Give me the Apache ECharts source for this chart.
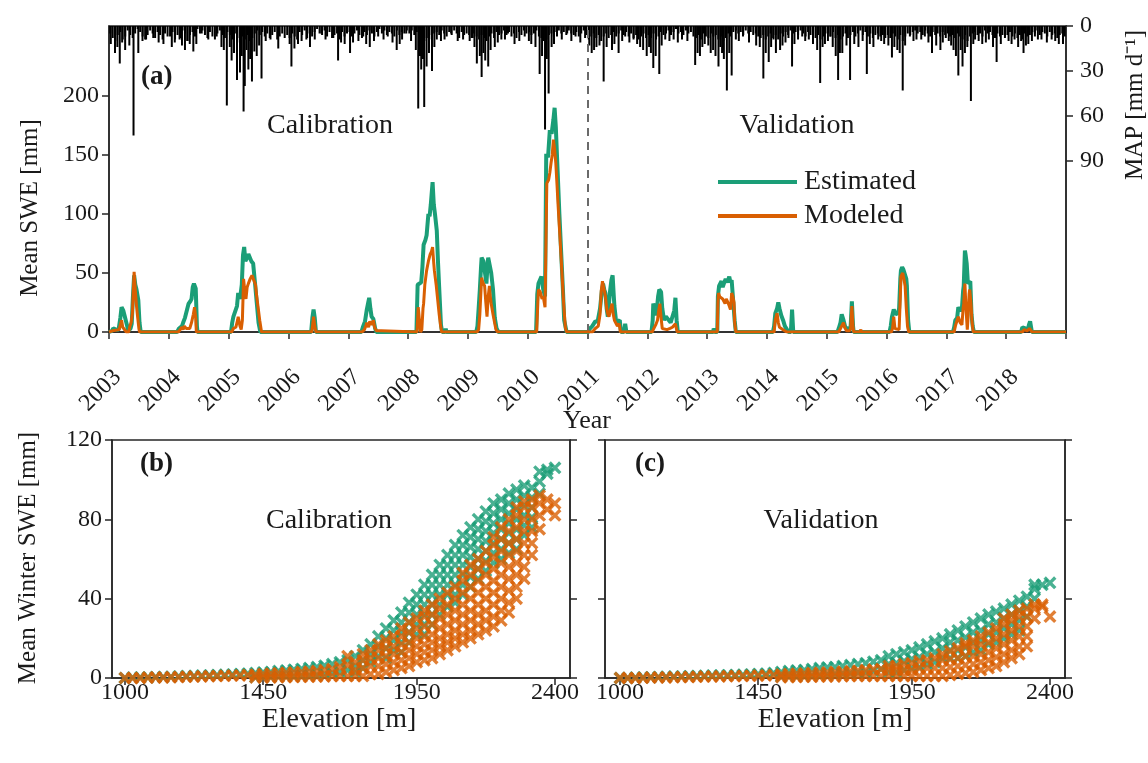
<!DOCTYPE html>
<html><head><meta charset="utf-8">
<script src="https://cdn.jsdelivr.net/npm/echarts@6/dist/echarts.min.js"></script>
<style>html,body{margin:0;padding:0;background:#fff}#c{width:1148px;height:763px}</style>
</head><body><div id="c"></div>
<script>
// ---------- Panel (a): mean SWE time series (decimal year, mm) ----------
const estimatedSWE = [
[2003.00,0],[2003.05,1],[2003.07,3],[2003.12,2],[2003.16,2],[2003.19,12],[2003.21,21],[2003.24,18],[2003.27,19],[2003.30,6],[2003.32,1],[2003.36,3],[2003.38,7],[2003.40,30],[2003.42,48],[2003.44,40],[2003.46,36],[2003.49,27],[2003.51,8],[2003.53,0],
[2004.14,0],[2004.17,3],[2004.22,5],[2004.24,8],[2004.27,12],[2004.30,18],[2004.33,24],[2004.36,26],[2004.38,28],[2004.40,38],[2004.42,41],[2004.45,37],[2004.47,5],[2004.48,0],
[2005.04,0],[2005.06,8],[2005.08,13],[2005.11,12],[2005.14,22],[2005.16,33],[2005.19,28],[2005.22,40],[2005.24,65],[2005.26,72],[2005.28,60],[2005.30,62],[2005.33,66],[2005.36,67],[2005.38,60],[2005.41,58],[2005.44,42],[2005.47,25],[2005.50,8],[2005.53,0],
[2006.38,0],[2006.40,12],[2006.42,19],[2006.44,12],[2006.46,0],
[2007.22,0],[2007.25,5],[2007.28,9],[2007.31,19],[2007.33,24],[2007.35,29],[2007.37,20],[2007.39,13],[2007.42,11],[2007.45,3],[2007.47,0],
[2008.14,0],[2008.16,40],[2008.19,41],[2008.22,42],[2008.24,55],[2008.26,74],[2008.29,78],[2008.31,82],[2008.34,100],[2008.36,98],[2008.38,108],[2008.41,127],[2008.43,108],[2008.45,100],[2008.48,86],[2008.50,60],[2008.52,38],[2008.55,6],[2008.57,0],[2008.62,0],[2008.63,3],[2008.64,0],
[2009.14,0],[2009.16,5],[2009.18,20],[2009.20,36],[2009.22,55],[2009.23,63],[2009.26,60],[2009.28,61],[2009.30,45],[2009.31,41],[2009.33,58],[2009.34,63],[2009.37,62],[2009.39,50],[2009.42,36],[2009.45,12],[2009.48,3],[2009.51,0],
[2010.14,0],[2010.16,32],[2010.18,41],[2010.21,40],[2010.23,47],[2010.26,36],[2010.29,30],[2010.31,151],[2010.34,148],[2010.37,171],[2010.40,168],[2010.43,180],[2010.45,190],[2010.47,174],[2010.50,137],[2010.53,100],[2010.56,67],[2010.59,35],[2010.61,10],[2010.65,0],
[2011.02,0],[2011.04,3],[2011.08,5],[2011.13,9],[2011.17,9],[2011.21,20],[2011.24,35],[2011.26,41],[2011.28,36],[2011.30,33],[2011.32,20],[2011.34,13],[2011.36,25],[2011.38,36],[2011.40,44],[2011.42,48],[2011.44,30],[2011.45,22],[2011.48,8],[2011.51,9],[2011.54,10],[2011.56,0],[2011.61,0],[2011.63,7],[2011.65,0],
[2012.07,0],[2012.09,10],[2012.10,24],[2012.13,20],[2012.15,14],[2012.18,30],[2012.20,36],[2012.23,34],[2012.25,20],[2012.28,10],[2012.31,13],[2012.33,14],[2012.36,10],[2012.39,8],[2012.42,7],[2012.45,18],[2012.47,29],[2012.49,10],[2012.51,0],
[2013.10,0],[2013.11,3],[2013.13,0],[2013.17,0],[2013.18,30],[2013.20,39],[2013.22,40],[2013.24,43],[2013.26,38],[2013.28,41],[2013.30,40],[2013.31,45],[2013.34,42],[2013.37,47],[2013.39,42],[2013.41,44],[2013.44,43],[2013.46,10],[2013.48,0],
[2014.10,0],[2014.12,5],[2014.14,16],[2014.17,20],[2014.19,25],[2014.21,20],[2014.24,14],[2014.27,10],[2014.30,5],[2014.32,4],[2014.36,0],[2014.40,0],[2014.42,19],[2014.44,0],
[2015.18,0],[2015.20,3],[2015.23,8],[2015.25,15],[2015.28,10],[2015.31,4],[2015.33,4],[2015.37,2],[2015.40,5],[2015.42,26],[2015.44,5],[2015.45,0],
[2016.05,0],[2016.07,5],[2016.09,13],[2016.12,19],[2016.15,15],[2016.19,16],[2016.21,20],[2016.23,45],[2016.24,52],[2016.26,55],[2016.28,53],[2016.31,52],[2016.33,45],[2016.34,39],[2016.36,10],[2016.38,0],
[2017.11,0],[2017.13,4],[2017.15,10],[2017.18,12],[2017.20,21],[2017.23,18],[2017.26,20],[2017.28,35],[2017.29,39],[2017.31,69],[2017.32,66],[2017.34,58],[2017.36,41],[2017.38,40],[2017.40,43],[2017.42,15],[2017.44,5],[2017.46,0],
[2018.25,0],[2018.27,4],[2018.29,5],[2018.32,3],[2018.36,2],[2018.38,6],[2018.40,9],[2018.42,3],[2018.43,0],[2019.00,0]
];
const modeledSWE = [
[2003.00,0],[2003.06,1],[2003.17,2],[2003.19,6],[2003.21,10],[2003.23,4],[2003.26,3],[2003.29,0],[2003.33,0],[2003.35,5],[2003.37,8],[2003.39,15],[2003.42,51],[2003.44,35],[2003.46,22],[2003.48,12],[2003.50,3],[2003.51,0],
[2004.16,0],[2004.19,2],[2004.22,4],[2004.24,2],[2004.26,5],[2004.29,3],[2004.32,2],[2004.35,3],[2004.38,8],[2004.41,15],[2004.43,21],[2004.45,12],[2004.46,0],
[2005.05,0],[2005.08,3],[2005.12,4],[2005.15,10],[2005.16,13],[2005.19,5],[2005.21,2],[2005.23,10],[2005.25,45],[2005.27,35],[2005.29,28],[2005.31,38],[2005.33,41],[2005.36,45],[2005.39,48],[2005.42,47],[2005.45,40],[2005.47,30],[2005.50,18],[2005.52,10],[2005.55,0],
[2006.39,0],[2006.41,8],[2006.42,13],[2006.44,5],[2006.46,0],
[2007.23,0],[2007.27,2],[2007.30,6],[2007.31,8],[2007.34,4],[2007.36,9],[2007.39,6],[2007.42,10],[2007.44,4],[2007.47,1],[2007.55,1],[2007.57,0],
[2008.15,0],[2008.17,21],[2008.19,10],[2008.21,0],[2008.23,2],[2008.25,20],[2008.26,24],[2008.28,40],[2008.31,52],[2008.34,60],[2008.37,66],[2008.39,68],[2008.41,72],[2008.43,58],[2008.44,52],[2008.47,40],[2008.49,30],[2008.52,15],[2008.54,7],[2008.56,0],
[2009.15,0],[2009.18,2],[2009.20,15],[2009.23,46],[2009.25,42],[2009.28,39],[2009.30,25],[2009.32,13],[2009.34,30],[2009.36,39],[2009.37,32],[2009.39,24],[2009.42,15],[2009.45,7],[2009.47,2],[2009.50,0],
[2010.15,0],[2010.17,25],[2010.18,36],[2010.21,34],[2010.24,28],[2010.26,30],[2010.29,21],[2010.32,126],[2010.35,129],[2010.37,135],[2010.39,143],[2010.41,150],[2010.43,163],[2010.45,155],[2010.47,143],[2010.49,125],[2010.51,106],[2010.54,80],[2010.57,53],[2010.60,25],[2010.63,4],[2010.65,0],
[2011.08,0],[2011.13,3],[2011.18,5],[2011.21,15],[2011.23,35],[2011.25,43],[2011.27,38],[2011.30,30],[2011.32,20],[2011.34,15],[2011.36,13],[2011.38,18],[2011.41,24],[2011.43,15],[2011.45,10],[2011.47,10],[2011.50,5],[2011.53,7],[2011.55,0],
[2012.08,0],[2012.10,2],[2012.14,6],[2012.17,10],[2012.19,18],[2012.21,24],[2012.23,12],[2012.25,3],[2012.28,4],[2012.33,2],[2012.38,3],[2012.42,4],[2012.45,5],[2012.47,7],[2012.49,2],[2012.50,0],
[2013.17,0],[2013.18,25],[2013.19,33],[2013.21,30],[2013.24,31],[2013.26,28],[2013.28,26],[2013.30,24],[2013.32,28],[2013.34,26],[2013.37,22],[2013.39,19],[2013.41,33],[2013.43,30],[2013.45,25],[2013.46,8],[2013.48,0],
[2014.12,0],[2014.14,10],[2014.16,14],[2014.17,16],[2014.19,8],[2014.21,4],[2014.24,3],[2014.27,2],[2014.30,1],[2014.33,0],
[2015.20,0],[2015.23,3],[2015.26,6],[2015.28,8],[2015.30,4],[2015.33,1],[2015.38,1],[2015.40,3],[2015.42,22],[2015.44,4],[2015.45,0],[2015.55,0],[2015.57,2],[2015.58,0],
[2016.08,0],[2016.10,3],[2016.12,13],[2016.14,3],[2016.17,2],[2016.21,2],[2016.23,30],[2016.24,47],[2016.26,48],[2016.27,50],[2016.29,45],[2016.31,39],[2016.33,20],[2016.35,5],[2016.37,0],
[2017.13,0],[2017.15,5],[2017.18,10],[2017.20,13],[2017.23,8],[2017.26,6],[2017.28,20],[2017.29,24],[2017.31,41],[2017.33,18],[2017.35,2],[2017.36,10],[2017.38,32],[2017.39,36],[2017.41,25],[2017.43,8],[2017.45,0],
[2018.27,0],[2018.30,2],[2018.35,1],[2018.39,3],[2018.41,2],[2018.43,0],[2019.00,0]
];
// Precipitation (MAP, mm/d): larger events
const precipEvents = [
[2003.10,18],[2003.18,25],[2003.27,16],[2003.41,73],[2003.49,18],[2003.62,9],[2003.74,8],[2003.91,12],
[2004.05,14],[2004.18,9],[2004.27,16],[2004.35,12],[2004.41,17],[2004.55,5],[2004.80,7],[2004.88,14],[2004.97,53],
[2005.05,23],[2005.14,36],[2005.19,31],[2005.25,57],[2005.27,40],[2005.33,29],[2005.39,37],[2005.47,20],[2005.55,35],[2005.70,9],[2005.83,15],
[2006.05,27],[2006.16,12],[2006.30,9],[2006.44,9],[2006.55,5],[2006.75,8],[2006.83,23],[2006.94,12],
[2007.03,18],[2007.25,7],[2007.36,14],[2007.50,7],[2007.66,7],[2007.81,16],[2007.90,9],[2007.97,5],
[2008.17,55],[2008.22,29],[2008.27,54],[2008.31,27],[2008.40,30],[2008.48,9],[2008.61,9],[2008.72,5],[2008.92,9],
[2009.08,8],[2009.15,25],[2009.20,20],[2009.23,34],[2009.29,23],[2009.34,27],[2009.45,14],[2009.56,9],[2009.67,5],[2009.78,12],[2009.95,7],
[2010.06,12],[2010.20,32],[2010.29,69],[2010.35,45],[2010.40,14],[2010.49,7],[2010.66,5],[2010.80,7],[2010.96,8],
[2011.07,18],[2011.15,14],[2011.27,37],[2011.41,16],[2011.52,18],[2011.63,7],[2011.77,9],[2011.88,14],[2011.99,20],
[2012.10,28],[2012.20,32],[2012.30,9],[2012.44,9],[2012.58,9],[2012.80,26],[2012.88,20],[2012.96,12],
[2013.06,18],[2013.19,27],[2013.25,18],[2013.33,43],[2013.41,33],[2013.48,9],[2013.60,7],[2013.82,13],[2013.94,35],
[2014.03,24],[2014.11,9],[2014.22,16],[2014.36,8],[2014.42,27],[2014.59,7],[2014.70,9],[2014.89,38],[2014.97,12],
[2015.06,7],[2015.19,36],[2015.26,18],[2015.39,36],[2015.53,14],[2015.67,32],[2015.78,14],[2015.86,9],[2015.96,12],
[2016.09,21],[2016.18,16],[2016.27,43],[2016.39,7],[2016.50,9],[2016.64,7],[2016.76,18],[2016.90,16],[2016.99,8],
[2017.12,16],[2017.20,33],[2017.27,27],[2017.31,18],[2017.41,50],[2017.48,9],[2017.60,12],[2017.71,9],[2017.84,24],[2017.98,7],
[2018.14,9],[2018.29,18],[2018.37,12],[2018.48,7],[2018.59,9],[2018.76,9],[2018.88,12]
];
// Precipitation (MAP, mm/d): moderate events
const precipModerate = [
[2003.03,12],[2003.14,14],[2003.22,11],[2003.34,13],[2003.56,10],[2003.83,11],
[2004.10,11],[2004.22,13],[2004.31,10],[2004.46,12],[2004.66,9],[2004.92,16],
[2005.02,14],[2005.09,18],[2005.22,20],[2005.30,16],[2005.36,22],[2005.43,17],[2005.51,13],[2005.62,10],
[2006.02,12],[2006.10,15],[2006.22,10],[2006.36,14],[2006.62,9],[2006.88,11],
[2007.08,11],[2007.17,10],[2007.30,12],[2007.43,10],[2007.59,9],[2007.74,11],[2007.86,12],
[2008.05,10],[2008.13,16],[2008.20,20],[2008.25,22],[2008.35,18],[2008.44,14],[2008.55,10],[2008.83,10],
[2009.03,10],[2009.11,14],[2009.26,18],[2009.38,16],[2009.50,11],[2009.62,9],[2009.86,10],
[2010.02,10],[2010.13,14],[2010.24,20],[2010.32,22],[2010.44,12],[2010.57,9],[2010.73,10],[2010.88,11],
[2011.03,13],[2011.11,16],[2011.20,13],[2011.32,14],[2011.45,12],[2011.58,10],[2011.70,11],[2011.83,12],[2011.93,16],
[2012.03,14],[2012.06,18],[2012.14,20],[2012.24,13],[2012.37,10],[2012.51,11],[2012.67,10],[2012.84,18],[2012.92,14],
[2013.02,13],[2013.10,16],[2013.14,20],[2013.22,14],[2013.28,22],[2013.37,18],[2013.53,10],[2013.70,11],[2013.88,14],[2013.98,18],
[2014.07,14],[2014.15,18],[2014.26,13],[2014.31,11],[2014.46,12],[2014.52,9],[2014.64,10],[2014.77,12],[2014.84,16],[2014.93,14],
[2015.02,10],[2015.10,14],[2015.15,20],[2015.22,18],[2015.33,13],[2015.46,12],[2015.60,10],[2015.72,12],[2015.91,10],
[2016.03,13],[2016.13,14],[2016.22,18],[2016.31,13],[2016.45,10],[2016.58,9],[2016.70,11],[2016.83,13],[2016.94,11],
[2017.04,10],[2017.08,13],[2017.16,20],[2017.24,16],[2017.35,14],[2017.45,12],[2017.54,10],[2017.66,11],[2017.78,14],[2017.91,12],
[2018.04,10],[2018.09,12],[2018.20,14],[2018.25,10],[2018.33,13],[2018.43,10],[2018.53,9],[2018.68,11],[2018.82,10],[2018.95,12]
];
// Precipitation: small background events, 24 half-month slots per year
const precipYears = [2003,2004,2005,2006,2007,2008,2009,2010,2011,2012,2013,2014,2015,2016,2017,2018];
const precipSmall = [
[5,8,10,6,4,9,7,3,6,8,5,2,4,7,9,6,3,5,8,4,6,9,5,7],
[7,4,9,6,8,3,5,10,6,4,7,2,5,3,6,8,4,7,9,5,3,6,8,4],
[6,9,5,8,11,7,9,6,10,8,5,3,6,4,7,5,8,6,4,9,7,5,8,6],
[8,5,7,9,4,6,3,8,5,7,4,2,5,6,3,7,4,8,6,5,9,4,7,5],
[4,7,5,3,6,8,4,6,3,5,7,4,2,5,3,6,4,5,7,3,6,4,5,3],
[5,3,6,4,9,7,10,8,6,9,5,4,6,3,5,7,4,6,3,5,8,4,6,5],
[6,8,5,7,9,6,8,10,7,5,8,4,6,5,3,6,4,7,5,8,4,6,3,5],
[4,6,5,3,7,8,10,9,6,5,7,4,3,5,4,6,3,5,6,4,7,5,3,6],
[9,7,5,8,6,10,7,5,8,6,4,7,5,3,6,4,7,5,8,6,9,7,5,8],
[6,8,5,9,7,4,6,5,3,6,4,2,5,4,6,3,5,4,7,8,6,9,5,7],
[8,5,7,6,9,7,10,8,5,7,4,3,5,4,6,3,5,4,6,5,7,8,6,9],
[7,5,8,6,9,5,7,4,6,3,5,4,6,3,5,7,4,6,5,8,6,9,7,5],
[5,7,4,8,6,9,7,5,8,6,4,7,5,3,6,4,7,5,8,6,5,7,6,8],
[6,8,5,7,9,6,10,7,5,6,4,3,5,4,6,3,5,7,4,6,5,7,4,6],
[5,7,6,8,5,7,9,6,10,7,5,4,6,5,7,3,5,4,6,8,5,7,6,8],
[6,4,7,5,8,6,9,5,7,6,4,5,3,6,4,5,7,4,6,5,8,6,5,7]
];
// ---------- Panels (b),(c): mean winter SWE vs elevation ----------
const elevCols = [1000,1025,1050,1075,1100,1125,1150,1175,1200,1225,1250,1275,1300,1325,1350,1375,1400,1425,1450,1475,1500,1525,1550,1575,1600,1625,1650,1675,1700,1725,1750,1775,1800,1825,1850,1875,1900,1925,1950,1975,2000,2025,2050,2075,2100,2125,2150,2175,2200,2225,2250,2275,2300,2325,2350,2375,2400];
const calEst = [[0],[0.2],[0.3],[0.3],[0.5],[0.5],[0.6],[0.8],[1],[1],[1.2],[1.3],[1.5],[1.6],[1.8],[2],[2.2],[0.5,2.5],[0.5,2.8],[0.6,3],[0.8,3.5],[1,3.8],[1,4.2],[1.2,4.6],[1.3,5],[1.5,5.5],[2,6.2],[2.5,7],[3,8],[4,9],[3,6,11],[5,9,14],[8,12,17],[11,16,21],[10,15,20,25],[14,19,24,29],[13,18,23,28,33],[18,23,28,33,38],[22,27,32,37,42],[22,27,32,37,42,47],[27,32,37,42,47,52],[32,37,42,47,52,57],[36,42,47,52,57,62],[38,42,47,52,57,62,67],[42,47,52,57,62,67,72],[46,51,56,61,66,71,76],[50,55,60,65,70,75,80],[54,59,64,69,74,79,84],[58,63,68,73,78,83,88],[60,65,70,75,80,85,90],[63,68,73,78,83,88,93],[65,70,75,80,85,90,95],[72,77,82,87,92,97],[76,81,86,91,96],[93,99,104],[103,105],[106]];
const calMod = [[0],[0],[0],[0.2],[0.3],[0.3],[0.4],[0.5],[0.6],[0.7],[0.8],[0.9],[1],[1.1],[1.2],[1.3],[1.5],[0.3,1.7],[0.3,2],[0.3,2.2],[0.4,2.4],[0.5,2.6],[0.5,2.8],[0.6,3],[0.6,3.2],[0.7,3.5],[0.8,4],[1,4.5],[1,5.5],[1,6.5,11],[1,4,8],[1,5,9,12],[2,6,10,14],[2,6,10,14,17],[3,7,11,15,19],[4,8,12,16,21],[5,9,13,17,21,25],[6,10,14,18,23,28],[8,12,16,20,25,30],[9,13,17,21,26,31,34],[10,14,18,22,27,32,37],[12,16,20,25,30,35,40],[14,18,22,27,32,37,43],[16,20,24,29,34,40,46],[18,22,27,32,37,43,49,53],[20,24,29,34,40,46,52,57],[22,27,32,37,43,49,55,60],[24,29,34,40,46,52,58,64],[26,31,37,43,49,55,61,67,71],[29,34,40,46,52,58,64,70,76],[33,38,44,50,56,62,68,74,80],[40,46,52,58,64,70,76,82,86],[50,56,62,68,74,80,86,89],[62,68,74,80,86,90],[75,82,88,92],[85,90],[82,88]];
const valEst = [[0],[0],[0.2],[0.3],[0.4],[0.5],[0.6],[0.7],[0.8],[0.9],[1],[1.1],[1.2],[1.3],[1.4],[1.5],[1.6],[1.8],[2],[2.2],[2.5],[0.8,3],[1,3.5],[1,3.8],[1.2,4],[1.3,4.5],[1.5,5],[1.8,5.3],[2,5.5],[2.2,6],[2.5,6.5],[2.8,7],[3,7.5],[3.5,8.2],[4.5,9],[3,7,11],[3,7.5,12],[4,8.5,13],[5,9.5,14],[5.5,10.5,15.5],[7,12,17],[8,13,18.5],[10,15,20],[10,14,18,22],[10,14,19,24],[11,15.5,20.5,26],[13,18,23,28],[14,19,24,30],[17,22,27,32],[18,23,28,33.5],[20,25,30,35],[22,27,32,37],[24,29,34,39],[31,36,41],[40,45,47],[47],[48]];
const valMod = [[0],[0],[0],[0.1],[0.2],[0.3],[0.3],[0.4],[0.5],[0.5],[0.6],[0.7],[0.8],[0.8],[0.9],[1],[1],[1.1],[1.2],[1.3],[1.5],[0.4,1.8],[0.5,2],[0.5,2.2],[0.6,2.3],[0.6,2.5],[0.7,2.6],[0.7,2.8],[0.8,3],[0.9,3.2],[1,3.4],[1,3.7],[1,4],[1,4.3],[1,4.5],[1,4,6],[1,4,6],[1,4,7],[1,4,7.5],[1,5,8.5],[1,5,9],[1,5,10],[1,5,9,12],[1.5,5.5,9.5,13.5],[2,6,10,15],[2.5,6.5,11,16,17.5],[3,7,11,16,19],[4,8,12,17,21],[5,9,13,18,23],[6,10.5,15,20,25],[8,12,17,22,27,30],[10,14,19,24,29,32],[12,16,21,26,31,34],[16,21,26,31,35],[30,35,37],[36,37],[31]];

const sweTicks = [0,50,100,150,200];
const mapTicks = [0,30,60,90];
const elevTicks = [1000,1450,1950,2400];

// ---------- build ----------
const FF = '"Liberation Serif","Times New Roman",serif';
const AX = '#262626', TXT = '#1a1a1a';
const GREEN = '#1b9e77', ORANGE = '#d95f02';
const precipData = [];
precipYears.forEach((y, i) => precipSmall[i].forEach((v, k) => precipData.push([y + (k + 0.5) / 24, v])));
precipModerate.forEach(p => precipData.push(p));
precipEvents.forEach(p => precipData.push(p));
function flatten(cols) { const out = []; elevCols.forEach((e, i) => cols[i].forEach(v => out.push([e, v]))); return out; }
const XSYM = 'path://M0,2.2L2.2,0L6,3.8L9.8,0L12,2.2L8.2,6L12,9.8L9.8,12L6,8.2L2.2,12L0,9.8L3.8,6Z';

const line = { show: true, lineStyle: { color: AX, width: 1.5 } };
const tick = (extra) => Object.assign({ show: true, inside: false, length: 7, lineStyle: { color: AX, width: 1.5 } }, extra || {});
const lab = (extra) => Object.assign({ color: TXT, fontFamily: FF, fontSize: 24 }, extra || {});
const plain = v => String(v);
const ctr = { textAlign: 'center', align: 'center', textVerticalAlign: 'middle', verticalAlign: 'middle' };
const txt = (x, y, text, font, extra) => ({ type: 'text', x: x, y: y, rotation: (extra && extra.rot) || 0,
  style: Object.assign({ text: text, font: font, fill: TXT }, (extra && extra.left) ? { textVerticalAlign: 'middle', verticalAlign: 'middle' } : ctr) });
const scat = (name, xi, yi, data, color) => ({ name: name, type: 'scatter', xAxisIndex: xi, yAxisIndex: yi, data: flatten(data),
  symbol: XSYM, symbolSize: 13, symbolKeepAspect: true, itemStyle: { color: color } });

const chart = echarts.init(document.getElementById('c'), null, { renderer: 'canvas' });
chart.setOption({
  animation: false,
  backgroundColor: '#fff',
  grid: [
    { left: 109, top: 26, width: 957, height: 306, show: true, borderColor: AX, borderWidth: 1.5 },
    { left: 112, top: 440, width: 458, height: 238, show: true, borderColor: AX, borderWidth: 1.5 },
    { left: 605, top: 440, width: 460, height: 238, show: true, borderColor: AX, borderWidth: 1.5 }
  ],
  xAxis: [
    { gridIndex: 0, type: 'value', min: 2003, max: 2019, interval: 1, axisLine: line, axisTick: tick(), splitLine: { show: false },
      axisLabel: lab({ rotate: 45, margin: 33, verticalAlign: 'top', formatter: v => (v >= 2019 ? '' : String(v)) }) },
    { gridIndex: 1, type: 'value', min: 958, max: 2449, axisLine: line, splitLine: { show: false },
      axisTick: tick({ customValues: elevTicks }), axisLabel: lab({ customValues: elevTicks, margin: 3, formatter: plain }) },
    { gridIndex: 2, type: 'value', min: 951, max: 2449, axisLine: line, splitLine: { show: false },
      axisTick: tick({ customValues: elevTicks }), axisLabel: lab({ customValues: elevTicks, margin: 3, formatter: plain }) }
  ],
  yAxis: [
    { gridIndex: 0, type: 'value', position: 'left', min: 0, max: 259.3, axisLine: line, splitLine: { show: false },
      axisTick: tick({ customValues: sweTicks }), axisLabel: lab({ customValues: sweTicks, margin: 10 }) },
    { gridIndex: 0, type: 'value', position: 'right', inverse: true, min: 0, max: 204, axisLine: line, splitLine: { show: false },
      axisTick: tick({ customValues: mapTicks }), axisLabel: lab({ customValues: mapTicks, margin: 14 }) },
    { gridIndex: 1, type: 'value', position: 'left', min: 0, max: 120, interval: 40, axisLine: line, splitLine: { show: false },
      axisTick: tick(), axisLabel: lab({ margin: 10 }) },
    { gridIndex: 1, type: 'value', position: 'right', min: 0, max: 120, interval: 40, axisLine: line, splitLine: { show: false },
      axisTick: tick(), axisLabel: { show: false } },
    { gridIndex: 2, type: 'value', position: 'left', min: 0, max: 120, interval: 40, axisLine: line, splitLine: { show: false },
      axisTick: tick(), axisLabel: { show: false } },
    { gridIndex: 2, type: 'value', position: 'right', min: 0, max: 120, interval: 40, axisLine: line, splitLine: { show: false },
      axisTick: tick(), axisLabel: { show: false } }
  ],
  legend: {
    data: [{ name: 'Estimated', itemStyle: { color: GREEN } }, { name: 'Modeled', itemStyle: { color: ORANGE } }],
    icon: 'rect', orient: 'vertical', left: 713, top: 163, itemWidth: 79, itemHeight: 4, itemGap: 6,
    textStyle: { fontFamily: FF, fontSize: 28, color: TXT, padding: [0, 0, 0, 2] }, selectedMode: false
  },
  series: [
    { name: 'MAP', type: 'bar', xAxisIndex: 0, yAxisIndex: 1, data: precipData, barWidth: 2, itemStyle: { color: '#000' }, z: 3 },
    { name: 'Estimated', type: 'line', xAxisIndex: 0, yAxisIndex: 0, data: estimatedSWE, symbol: 'none', showSymbol: false,
      lineStyle: { color: GREEN, width: 4 }, itemStyle: { color: GREEN }, z: 4 },
    { name: 'Modeled', type: 'line', xAxisIndex: 0, yAxisIndex: 0, data: modeledSWE, symbol: 'none', showSymbol: false,
      lineStyle: { color: ORANGE, width: 3 }, itemStyle: { color: ORANGE }, z: 5,
      markLine: { silent: true, symbol: ['none', 'none'], label: { show: false }, animation: false,
        lineStyle: { type: [8, 6], color: '#6a6a6a', width: 2 }, data: [{ xAxis: 2011 }] } },
    scat('calEst', 1, 2, calEst, GREEN),
    scat('calMod', 1, 2, calMod, ORANGE),
    scat('valEst', 2, 4, valEst, GREEN),
    scat('valMod', 2, 4, valMod, ORANGE)
  ],
  graphic: [
    txt(141, 77, '(a)', 'bold 27px ' + FF, { left: true }),
    txt(330, 126, 'Calibration', '28px ' + FF),
    txt(797, 126, 'Validation', '28px ' + FF),
    txt(140, 464, '(b)', 'bold 27px ' + FF, { left: true }),
    txt(635, 464, '(c)', 'bold 27px ' + FF, { left: true }),
    txt(329, 521, 'Calibration', '28px ' + FF),
    txt(821, 521, 'Validation', '28px ' + FF),
    txt(587, 421, 'Year', '26px ' + FF),
    txt(339, 720, 'Elevation [m]', '28px ' + FF),
    txt(835, 720, 'Elevation [m]', '28px ' + FF),
    txt(30, 208, 'Mean SWE [mm]', '25px ' + FF, { rot: Math.PI / 2 }),
    txt(28, 558, 'Mean Winter SWE [mm]', '25px ' + FF, { rot: Math.PI / 2 }),
    txt(1135, 105, 'MAP [mm d\u207B\u00B9]', '25px ' + FF, { rot: Math.PI / 2 })
  ]
});
</script>
</body></html>
